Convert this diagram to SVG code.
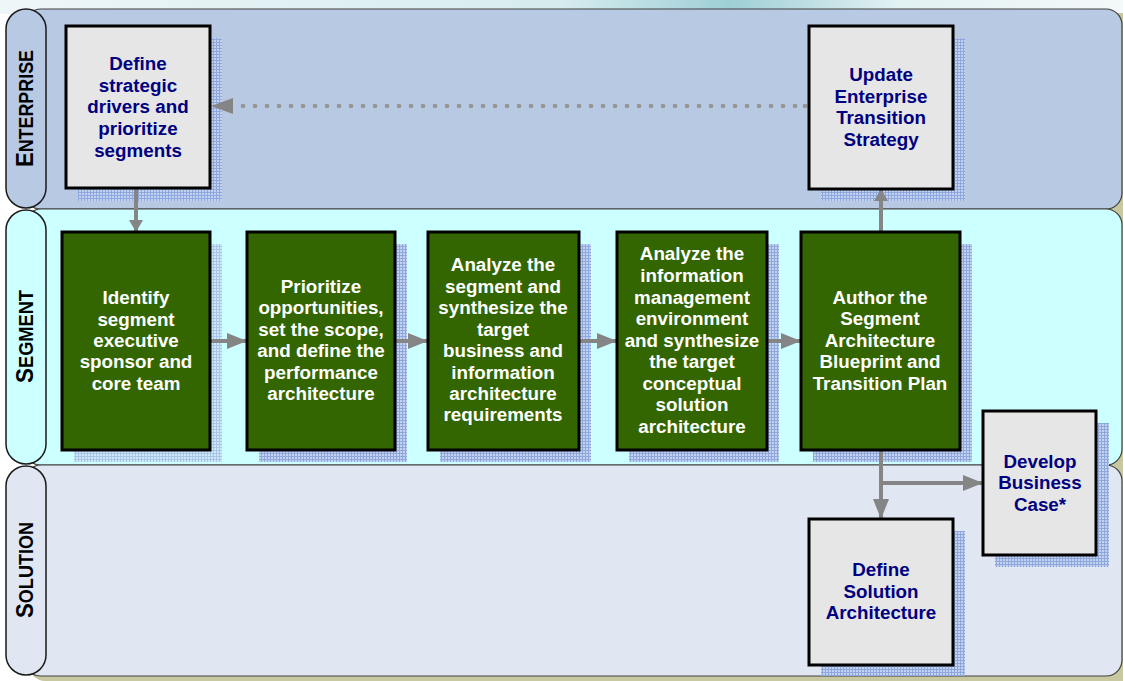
<svg xmlns="http://www.w3.org/2000/svg" width="1123" height="681" viewBox="0 0 1123 681">
<defs>
<linearGradient id="bg" x1="0" y1="0" x2="1" y2="0">
<stop offset="0" stop-color="#eef6f8"/>
<stop offset="0.5" stop-color="#d6ecef"/>
<stop offset="0.65" stop-color="#9fcfd6"/>
<stop offset="0.8" stop-color="#e2f1f3"/>
<stop offset="1" stop-color="#f4f9fa"/>
</linearGradient>
<pattern id="dots" width="3" height="3" patternUnits="userSpaceOnUse">
<rect width="3" height="3" fill="#c2d2ef"/>
<rect width="3" height="1" fill="#8ea8dd"/>
<rect width="1" height="3" fill="#8ea8dd"/>
</pattern>
<pattern id="dotsL" width="3" height="3" patternUnits="userSpaceOnUse">
<rect width="3" height="3" fill="#cde8f6"/>
<rect width="3" height="1" fill="#a8c4e6"/>
<rect width="1" height="3" fill="#a8c4e6"/>
</pattern>
<marker id="ah" viewBox="0 0 12 14" refX="11" refY="7" markerWidth="12" markerHeight="14" markerUnits="userSpaceOnUse" orient="auto">
<path d="M0,0 L12,7 L0,14 Z" fill="#858585"/>
</marker>
<marker id="ahBig" viewBox="0 0 20 16" refX="19" refY="8" markerWidth="20" markerHeight="16" markerUnits="userSpaceOnUse" orient="auto">
<path d="M0,0 L20,8 L0,16 Z" fill="#858585"/>
</marker>
<style>
.lane{stroke:#404040;stroke-width:1.2}
.pill{stroke:#1a1a1a;stroke-width:1.5}
.lbl{font-family:"Liberation Sans",Arial,sans-serif;font-weight:bold;fill:#000;text-anchor:middle}
.box{fill:#e6e6e6;stroke:#000;stroke-width:3}
.gbox{fill:#336600;stroke:#000;stroke-width:3}
.t{font-family:"Liberation Sans",Arial,sans-serif;font-weight:bold;font-size:18.8px;text-anchor:middle}
.navy{fill:#000080}
.white{fill:#ffffff}
.conn{stroke:#858585;stroke-width:4;fill:none}
.dot{fill:#959595}
</style>
</defs>
<rect x="0" y="0" width="1123" height="681" fill="#ffffff"/>
<rect x="0" y="0" width="1123" height="14" fill="url(#bg)"/>
<!-- lanes -->
<g id="lanes">
<rect x="29" y="13" width="1110" height="200" rx="16" fill="#c8c8a0"/>
<rect x="29" y="213" width="1110" height="256" rx="16" fill="#c8c8a0"/>
<rect x="29" y="469" width="1110" height="212" rx="16" fill="#c8c8a0"/>
<rect class="lane" x="25" y="9" width="1097" height="200" rx="16" fill="#b8c9e3"/>
<rect class="lane" x="25" y="209" width="1097" height="256" rx="16" fill="#ccffff"/>
<rect class="lane" x="25" y="465" width="1097" height="211" rx="16" fill="#e0e6f2"/>
</g>
<g id="lane-enterprise">
<rect class="pill" x="6" y="9" width="40" height="199" rx="20" fill="#b8c9e3"/>
<text class="lbl" transform="translate(33,108.5) rotate(-90)" textLength="117" lengthAdjust="spacingAndGlyphs"><tspan font-size="24">E</tspan><tspan font-size="19.5">NTERPRISE</tspan></text>
</g>
<g id="lane-segment">
<rect class="pill" x="6" y="210" width="40" height="254" rx="20" fill="#ccffff"/>
<text class="lbl" transform="translate(33,336.5) rotate(-90)" textLength="93" lengthAdjust="spacingAndGlyphs"><tspan font-size="24">S</tspan><tspan font-size="19.5">EGMENT</tspan></text>
</g>
<g id="lane-solution">
<rect class="pill" x="6" y="466" width="40" height="209" rx="20" fill="#e0e6f2"/>
<text class="lbl" transform="translate(33,570) rotate(-90)" textLength="96" lengthAdjust="spacingAndGlyphs"><tspan font-size="24">S</tspan><tspan font-size="19.5">OLUTION</tspan></text>
</g>
<!-- shadows -->
<g id="shadows">
<rect x="78" y="38" width="144" height="163" fill="url(#dots)"/>
<rect x="821" y="38" width="144" height="163" fill="url(#dots)"/>
<rect x="74" y="244" width="148" height="218" fill="url(#dotsL)"/>
<rect x="259" y="244" width="148" height="218" fill="url(#dots)"/>
<rect x="440" y="244" width="151" height="218" fill="url(#dots)"/>
<rect x="629" y="244" width="150" height="218" fill="url(#dots)"/>
<rect x="813" y="244" width="159" height="218" fill="url(#dots)"/>
<rect x="995" y="423" width="114" height="144" fill="url(#dots)"/>
<rect x="821" y="531" width="144" height="145" fill="url(#dots)"/>
</g>
<!-- connectors -->
<g id="connectors">
<line class="conn" x1="136" y1="189" x2="136" y2="231" marker-end="url(#ah)"/>
<line class="conn" x1="211" y1="341" x2="246" y2="341" marker-end="url(#ahBig)"/>
<line class="conn" x1="396" y1="341" x2="427" y2="341" marker-end="url(#ahBig)"/>
<line class="conn" x1="580" y1="341" x2="616" y2="341" marker-end="url(#ahBig)"/>
<line class="conn" x1="768" y1="341" x2="800" y2="341" marker-end="url(#ahBig)"/>
<line class="conn" x1="881" y1="231" x2="881" y2="190" marker-end="url(#ah)"/>
<polyline class="conn" points="881,451 881,518" marker-end="url(#ahBig)"/>
<polyline class="conn" points="881,483 982,483" marker-end="url(#ahBig)"/>
<path d="M211,106 L233,98 L233,114 Z" fill="#858585"/>
<g class="dot">
<circle cx="243" cy="106" r="2.3"/><circle cx="255" cy="106" r="2.3"/><circle cx="267" cy="106" r="2.3"/><circle cx="279" cy="106" r="2.3"/><circle cx="291" cy="106" r="2.3"/><circle cx="303" cy="106" r="2.3"/><circle cx="315" cy="106" r="2.3"/><circle cx="327" cy="106" r="2.3"/><circle cx="339" cy="106" r="2.3"/><circle cx="351" cy="106" r="2.3"/><circle cx="363" cy="106" r="2.3"/><circle cx="375" cy="106" r="2.3"/><circle cx="387" cy="106" r="2.3"/><circle cx="399" cy="106" r="2.3"/><circle cx="411" cy="106" r="2.3"/><circle cx="423" cy="106" r="2.3"/><circle cx="435" cy="106" r="2.3"/><circle cx="447" cy="106" r="2.3"/><circle cx="459" cy="106" r="2.3"/><circle cx="471" cy="106" r="2.3"/><circle cx="483" cy="106" r="2.3"/><circle cx="495" cy="106" r="2.3"/><circle cx="507" cy="106" r="2.3"/><circle cx="519" cy="106" r="2.3"/><circle cx="531" cy="106" r="2.3"/><circle cx="543" cy="106" r="2.3"/><circle cx="555" cy="106" r="2.3"/><circle cx="567" cy="106" r="2.3"/><circle cx="579" cy="106" r="2.3"/><circle cx="591" cy="106" r="2.3"/><circle cx="603" cy="106" r="2.3"/><circle cx="615" cy="106" r="2.3"/><circle cx="627" cy="106" r="2.3"/><circle cx="639" cy="106" r="2.3"/><circle cx="651" cy="106" r="2.3"/><circle cx="663" cy="106" r="2.3"/><circle cx="675" cy="106" r="2.3"/><circle cx="687" cy="106" r="2.3"/><circle cx="699" cy="106" r="2.3"/><circle cx="711" cy="106" r="2.3"/><circle cx="723" cy="106" r="2.3"/><circle cx="735" cy="106" r="2.3"/><circle cx="747" cy="106" r="2.3"/><circle cx="759" cy="106" r="2.3"/><circle cx="771" cy="106" r="2.3"/><circle cx="783" cy="106" r="2.3"/><circle cx="795" cy="106" r="2.3"/><circle cx="805" cy="106" r="2.3"/>
</g>
</g>
<!-- nodes -->
<g id="node-define-strategic">
<rect class="box" x="66" y="26" width="144" height="162"/>
<text class="t navy"><tspan x="138" y="70">Define</tspan><tspan x="138" y="92">strategic</tspan><tspan x="138" y="113">drivers and</tspan><tspan x="138" y="135">prioritize</tspan><tspan x="138" y="157">segments</tspan></text>
</g>
<g id="node-update-enterprise">
<rect class="box" x="809" y="26" width="144" height="163"/>
<text class="t navy"><tspan x="881" y="81">Update</tspan><tspan x="881" y="103">Enterprise</tspan><tspan x="881" y="124">Transition</tspan><tspan x="881" y="146">Strategy</tspan></text>
</g>
<g id="node-identify">
<rect class="gbox" x="62" y="232" width="148" height="218"/>
<text class="t white"><tspan x="136" y="304">Identify</tspan><tspan x="136" y="326">segment</tspan><tspan x="136" y="347">executive</tspan><tspan x="136" y="368">sponsor and</tspan><tspan x="136" y="390">core team</tspan></text>
</g>
<g id="node-prioritize">
<rect class="gbox" x="247" y="232" width="148" height="218"/>
<text class="t white"><tspan x="321" y="293">Prioritize</tspan><tspan x="321" y="314">opportunities,</tspan><tspan x="321" y="336">set the scope,</tspan><tspan x="321" y="357">and define the</tspan><tspan x="321" y="379">performance</tspan><tspan x="321" y="400">architecture</tspan></text>
</g>
<g id="node-analyze-segment">
<rect class="gbox" x="428" y="232" width="151" height="218"/>
<text class="t white"><tspan x="503" y="271">Analyze the</tspan><tspan x="503" y="293">segment and</tspan><tspan x="503" y="314">synthesize the</tspan><tspan x="503" y="336">target</tspan><tspan x="503" y="357">business and</tspan><tspan x="503" y="379">information</tspan><tspan x="503" y="400">architecture</tspan><tspan x="503" y="421">requirements</tspan></text>
</g>
<g id="node-analyze-info">
<rect class="gbox" x="617" y="232" width="150" height="218"/>
<text class="t white"><tspan x="692" y="260">Analyze the</tspan><tspan x="692" y="282">information</tspan><tspan x="692" y="304">management</tspan><tspan x="692" y="325">environment</tspan><tspan x="692" y="347">and synthesize</tspan><tspan x="692" y="368">the target</tspan><tspan x="692" y="390">conceptual</tspan><tspan x="692" y="411">solution</tspan><tspan x="692" y="433">architecture</tspan></text>
</g>
<g id="node-author">
<rect class="gbox" x="801" y="232" width="159" height="218"/>
<text class="t white"><tspan x="880" y="304">Author the</tspan><tspan x="880" y="325">Segment</tspan><tspan x="880" y="347">Architecture</tspan><tspan x="880" y="368">Blueprint and</tspan><tspan x="880" y="390">Transition Plan</tspan></text>
</g>
<g id="node-business-case">
<rect class="box" x="983" y="411" width="113" height="144"/>
<text class="t navy"><tspan x="1040" y="468">Develop</tspan><tspan x="1040" y="489">Business</tspan><tspan x="1040" y="511">Case*</tspan></text>
</g>
<g id="node-solution-arch">
<rect class="box" x="809" y="519" width="144" height="146"/>
<text class="t navy"><tspan x="881" y="576">Define</tspan><tspan x="881" y="598">Solution</tspan><tspan x="881" y="619">Architecture</tspan></text>
</g>
</svg>
